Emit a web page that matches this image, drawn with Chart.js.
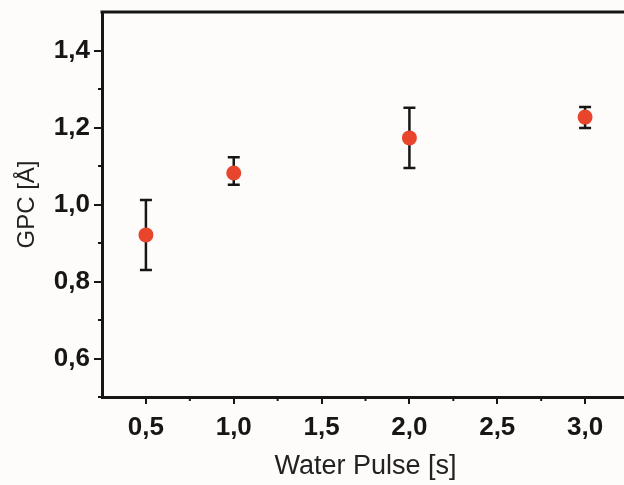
<!DOCTYPE html>
<html>
<head>
<meta charset="utf-8">
<script src="https://cdn.jsdelivr.net/npm/chart.js@4.4.1/dist/chart.umd.min.js"></script>
<style>
  html, body { margin: 0; padding: 0; overflow: hidden; background: #fdfcfb; }
</style>
</head>
<body>
<canvas id="gpcChart" width="640" height="485"></canvas>
<script>
// values
const pulses = [0.5, 1.0, 2.0, 3.0];
const gpc = [0.921, 1.082, 1.173, 1.227];
const gpcLow = [0.830, 1.051, 1.095, 1.199];
const gpcHigh = [1.012, 1.123, 1.251, 1.253];

const xTicks = [0.5, 1.0, 1.5, 2.0, 2.5, 3.0];
const xMinorTicks = [0.75, 1.25, 1.75, 2.25, 2.75];
const yTicks = [0.6, 0.8, 1.0, 1.2, 1.4];
const yMinorTicks = [0.5, 0.7, 0.9, 1.1, 1.3];

const ink = "#161616";
const fontFamily = "'Liberation Sans', Arial, sans-serif";

// error bars, minor ticks and the top frame line
const framePlugin = {
  id: "frame",
  beforeDatasetsDraw(chart) {
    const ctx = chart.ctx;
    const x = chart.scales.x;
    const y = chart.scales.y;
    ctx.save();
    ctx.strokeStyle = ink;
    ctx.lineWidth = 2.5;
    pulses.forEach((p, i) => {
      const px = x.getPixelForValue(p);
      const top = y.getPixelForValue(gpcHigh[i]);
      const bot = y.getPixelForValue(gpcLow[i]);
      ctx.beginPath();
      ctx.moveTo(px, top);
      ctx.lineTo(px, bot);
      ctx.moveTo(px - 6, top);
      ctx.lineTo(px + 6, top);
      ctx.moveTo(px - 6, bot);
      ctx.lineTo(px + 6, bot);
      ctx.stroke();
    });
    ctx.restore();
  },
  afterDraw(chart) {
    const ctx = chart.ctx;
    const area = chart.chartArea;
    const x = chart.scales.x;
    const y = chart.scales.y;
    ctx.save();
    ctx.strokeStyle = ink;
    ctx.lineWidth = 2;
    xMinorTicks.forEach((v) => {
      const px = x.getPixelForValue(v);
      ctx.beginPath();
      ctx.moveTo(px, area.bottom);
      ctx.lineTo(px, area.bottom + 4);
      ctx.stroke();
    });
    yMinorTicks.forEach((v) => {
      const py = y.getPixelForValue(v);
      ctx.beginPath();
      ctx.moveTo(area.left, py);
      ctx.lineTo(area.left - 4, py);
      ctx.stroke();
    });
    ctx.lineWidth = 3;
    ctx.beginPath();
    ctx.moveTo(area.left - 1.5, area.top);
    ctx.lineTo(area.right, area.top);
    ctx.stroke();
    ctx.restore();
  },
};

const commaLabel = (v) => Number(v).toFixed(1).replace(".", ",");

new Chart(document.getElementById("gpcChart").getContext("2d"), {
  type: "scatter",
  data: {
    datasets: [
      {
        data: pulses.map((p, i) => ({ x: p, y: gpc[i] })),
        backgroundColor: "#e8452d",
        borderColor: "#e8452d",
        pointRadius: 7.5,
        pointHoverRadius: 7.5,
        borderWidth: 0,
      },
    ],
  },
  options: {
    responsive: false,
    animation: false,
    layout: { padding: { top: 12, right: 11, left: 0, bottom: 0 } },
    plugins: { legend: { display: false }, tooltip: { enabled: false } },
    scales: {
      x: {
        type: "linear",
        min: 0.25,
        max: 3.25,
        afterBuildTicks: (scale) => {
          scale.ticks = xTicks.map((v) => ({ value: v }));
        },
        afterFit: (scale) => {
          scale.height = 88;
          scale.paddingLeft = 0;
          scale.paddingRight = 0;
        },
        border: { display: true, color: ink, width: 3 },
        grid: { drawOnChartArea: false, drawTicks: true, tickLength: 7, color: ink, lineWidth: 2 },
        ticks: {
          callback: commaLabel,
          color: ink,
          padding: 8,
          maxRotation: 0,
          font: { family: fontFamily, size: 26, weight: "bold" },
        },
        title: {
          display: true,
          text: "Water Pulse [s]",
          color: "#222",
          padding: { top: 0, bottom: 2 },
          font: { family: fontFamily, size: 27 },
        },
      },
      y: {
        type: "linear",
        min: 0.5,
        max: 1.5,
        afterBuildTicks: (scale) => {
          scale.ticks = yTicks.map((v) => ({ value: v }));
        },
        afterFit: (scale) => {
          scale.width = 102;
          scale.paddingTop = 0;
          scale.paddingBottom = 0;
        },
        border: { display: true, color: ink, width: 3 },
        grid: { drawOnChartArea: false, drawTicks: true, tickLength: 8, color: ink, lineWidth: 2 },
        ticks: {
          callback: commaLabel,
          color: ink,
          padding: 4,
          font: { family: fontFamily, size: 26, weight: "bold" },
        },
        title: {
          display: true,
          text: "GPC [Å]",
          color: "#222",
          padding: { top: 13, bottom: 0 },
          font: { family: fontFamily, size: 24 },
        },
      },
    },
  },
  plugins: [framePlugin],
});
</script>
</body>
</html>
